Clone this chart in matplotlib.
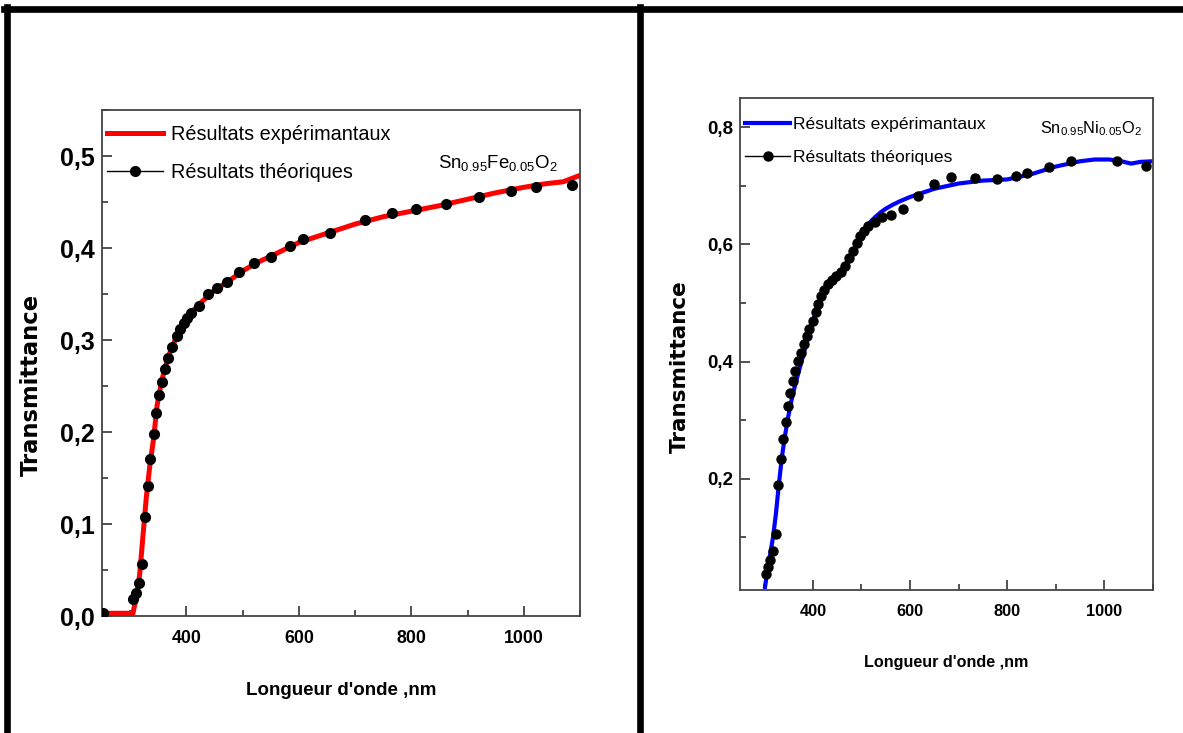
import matplotlib
matplotlib.use("Agg")
import matplotlib.pyplot as plt
from matplotlib.lines import Line2D
from matplotlib.ticker import MultipleLocator, FuncFormatter

# --- data ---
fe_exp_x = [250, 305, 311, 317, 323, 329, 335, 342, 348, 355, 362, 370, 380, 390, 400,
            415, 430, 450, 475, 500, 525, 550, 600, 650, 700, 750, 800, 850, 900, 950,
            1000, 1040, 1070, 1100]
fe_exp_y = [0.003, 0.003, 0.020, 0.045, 0.088, 0.130, 0.163, 0.194, 0.229, 0.252, 0.270,
            0.285, 0.300, 0.313, 0.323, 0.334, 0.343, 0.354, 0.364, 0.375, 0.384, 0.391,
            0.406, 0.416, 0.426, 0.434, 0.440, 0.446, 0.453, 0.460, 0.466, 0.470, 0.472,
            0.479]
fe_th_x = [252, 306, 310, 316, 322, 326, 331, 336, 342, 346, 351, 356, 362, 368, 375, 383,
           389, 395, 402, 409, 423, 439, 455, 473, 494, 520, 551, 585, 607, 656, 718, 765,
           809, 862, 920, 977, 1022, 1085]
fe_th_y = [0.003, 0.019, 0.025, 0.036, 0.056, 0.108, 0.141, 0.171, 0.198, 0.221, 0.240,
           0.254, 0.269, 0.280, 0.292, 0.304, 0.312, 0.319, 0.324, 0.329, 0.337, 0.350,
           0.356, 0.363, 0.374, 0.384, 0.390, 0.402, 0.410, 0.416, 0.430, 0.438, 0.442,
           0.448, 0.455, 0.462, 0.466, 0.469]

ni_exp_x = [301, 306, 312, 318, 324, 330, 336, 342, 348, 355, 362, 370, 380, 393, 405, 415,
            425, 435, 445, 455, 465, 475, 485, 495, 500, 510, 520, 530, 540, 550, 565, 580,
            600, 650, 700, 750, 800, 850, 900, 950, 980, 1010, 1035, 1055, 1075, 1100]
ni_exp_y = [0.012, 0.040, 0.070, 0.100, 0.140, 0.190, 0.235, 0.270, 0.300, 0.330, 0.355,
            0.380, 0.410, 0.450, 0.480, 0.505, 0.522, 0.535, 0.545, 0.553, 0.563, 0.576,
            0.592, 0.608, 0.616, 0.629, 0.640, 0.648, 0.655, 0.661, 0.668, 0.674, 0.681,
            0.695, 0.704, 0.709, 0.711, 0.720, 0.733, 0.742, 0.745, 0.745, 0.742, 0.738,
            0.741, 0.742]
ni_th_x = [303, 308, 312, 319, 324, 328, 334, 339, 344, 349, 353, 359, 363, 369, 375, 382,
           387, 393, 400, 406, 411, 416, 423, 432, 440, 448, 457, 466, 474, 483, 491, 498,
           505, 513, 527, 542, 561, 585, 617, 650, 684, 734, 778, 818, 841, 886, 931, 1026,
           1086]
ni_th_y = [0.038, 0.049, 0.061, 0.077, 0.106, 0.189, 0.234, 0.268, 0.297, 0.324, 0.346,
           0.367, 0.384, 0.401, 0.415, 0.430, 0.443, 0.455, 0.469, 0.484, 0.498, 0.512,
           0.523, 0.532, 0.539, 0.546, 0.553, 0.563, 0.576, 0.589, 0.603, 0.614, 0.623,
           0.631, 0.639, 0.646, 0.651, 0.660, 0.682, 0.703, 0.715, 0.713, 0.712, 0.716,
           0.722, 0.732, 0.743, 0.743, 0.734]

lbl_exp = "Résultats expérimantaux"
lbl_th = "Résultats théoriques"
xlab = "Longueur d'onde ,nm"
ylab = "Transmittance"

plt.rcParams['font.family'] = ['Liberation Sans', 'DejaVu Sans']
plt.rcParams['mathtext.fontset'] = 'custom'
plt.rcParams['mathtext.rm'] = 'Liberation Sans'
plt.rcParams['mathtext.it'] = 'Liberation Sans'
plt.rcParams['mathtext.bf'] = 'Liberation Sans'

comma = FuncFormatter(lambda v, p: ("%.1f" % v).replace(".", ","))

fig = plt.figure(figsize=(11.83, 7.33), dpi=100)

# outer frame lines
fig.add_artist(Line2D([0.003, 1.0], [0.988, 0.988], color='black', lw=4.8,
                      transform=fig.transFigure))
fig.add_artist(Line2D([0.0059, 0.0059], [0.0, 0.99], color='black', lw=4.8,
                      transform=fig.transFigure))
fig.add_artist(Line2D([0.5410, 0.5410], [0.0, 0.99], color='black', lw=4.8,
                      transform=fig.transFigure))


def panel(ax, ex, ey, tx, ty, color, sizes, ylim, ymaj, ymin, formula, fpos, leg_anchor,
          leg_opts, lw, ms, ylab_y, xlab_y, ylab_x):
    fs_leg, fs_xt, fs_yt, fs_xl, fs_yl, fs_f = sizes
    ax.plot(ex, ey, color=color, lw=lw, zorder=2, solid_capstyle='butt')
    ax.plot(tx, ty, 'o', color='black', ms=ms, zorder=3)
    ax.set_xlim(250, 1100)
    ax.set_ylim(*ylim)
    ax.xaxis.set_major_locator(MultipleLocator(200))
    ax.xaxis.set_minor_locator(MultipleLocator(100))
    ax.yaxis.set_major_locator(MultipleLocator(ymaj))
    ax.yaxis.set_minor_locator(MultipleLocator(ymin))
    ax.yaxis.set_major_formatter(comma)
    ax.tick_params(which='both', direction='in', color='#333333', width=1.2)
    ax.tick_params(which='major', length=7)
    ax.tick_params(which='minor', length=4)
    ax.tick_params(axis='x', pad=10)
    ax.tick_params(axis='y', pad=5)
    for lab in ax.get_xticklabels():
        lab.set_fontsize(fs_xt)
        lab.set_fontweight('bold')
    for lab in ax.get_yticklabels():
        lab.set_fontsize(fs_yt)
        lab.set_fontweight('bold')
    for s in ax.spines.values():
        s.set_color('#444444')
        s.set_linewidth(1.3)
    ax.set_xlabel(xlab, fontsize=fs_xl, fontweight='bold')
    ax.xaxis.set_label_coords(0.5, xlab_y)
    ax.set_ylabel(ylab, fontsize=fs_yl, fontweight='bold', family='DejaVu Sans')
    ax.yaxis.set_label_coords(ylab_x, ylab_y)
    handles = [Line2D([], [], color=color, lw=lw),
               Line2D([], [], color='black', lw=1, marker='o', ms=ms)]
    ax.legend(handles, [lbl_exp, lbl_th], loc='upper left', bbox_to_anchor=leg_anchor,
              frameon=False, fontsize=fs_leg, borderaxespad=0, borderpad=0, **leg_opts)
    ax.text(fpos[0], fpos[1], formula, transform=ax.transAxes, fontsize=fs_f)


ax1 = fig.add_axes([0.0862, 0.1596, 0.4041, 0.6903])
panel(ax1, fe_exp_x, fe_exp_y, fe_th_x, fe_th_y, '#ff0000',
      (14.3, 12.8, 18.0, 13.5, 16.3, 13.4), (0, 0.55), 0.1, 0.05,
      r"$\mathrm{Sn}_{0.95}\mathrm{Fe}_{0.05}\mathrm{O}_{2}$", (0.703, 0.885),
      (0.0105, 0.970), dict(handlelength=2.8, handletextpad=0.4, labelspacing=0.95),
      3.6, 7, 0.456, -0.13, -0.123)

ax2 = fig.add_axes([0.6255, 0.1951, 0.3491, 0.6712])
panel(ax2, ni_exp_x, ni_exp_y, ni_th_x, ni_th_y, '#0000ff',
      (12.6, 11.8, 13.5, 11.6, 15.5, 11.8), (0.01, 0.85), 0.2, 0.1,
      r"$\mathrm{Sn}_{0.95}\mathrm{Ni}_{0.05}\mathrm{O}_{2}$", (0.726, 0.929),
      (0.012, 0.961), dict(handlelength=2.6, handletextpad=0.12, labelspacing=0.97),
      3.0, 6.5, 0.455, -0.132, -0.121)

fig.savefig("out.png", dpi=100)
